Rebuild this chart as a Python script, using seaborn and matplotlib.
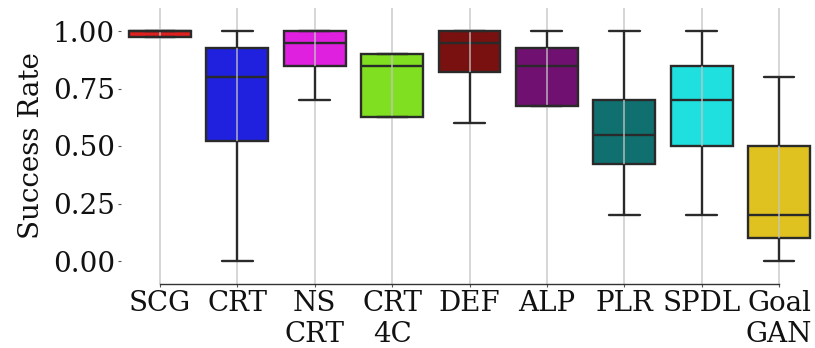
import numpy as np
import pandas as pd
import matplotlib
matplotlib.use("Agg")
import matplotlib.pyplot as plt
import seaborn as sns

# Methods and their success-rate summaries: [min, q1, median, q3, max]
methods = ["SCG", "CRT", "NS\nCRT", "CRT\n4C", "DEF", "ALP", "PLR", "SPDL", "Goal\nGAN"]
scg = [0.975, 0.975, 1.00, 1.00, 1.00]
crt = [0.00, 0.52, 0.80, 0.925, 1.00]
ns_crt = [0.70, 0.85, 0.95, 1.00, 1.00]
crt_4c = [0.625, 0.625, 0.85, 0.90, 0.90]
def_ = [0.60, 0.82, 0.95, 1.00, 1.00]
alp = [0.675, 0.675, 0.85, 0.925, 1.00]
plr = [0.20, 0.42, 0.55, 0.70, 1.00]
spdl = [0.20, 0.50, 0.70, 0.85, 1.00]
goal_gan = [0.00, 0.10, 0.20, 0.50, 0.80]
colors = ["red", "blue", "magenta", "chartreuse", "darkred", "purple", "teal", "cyan", "gold"]
yticks = [0.0, 0.25, 0.5, 0.75, 1.0]

series = [scg, crt, ns_crt, crt_4c, def_, alp, plr, spdl, goal_gan]
df = pd.DataFrame(
    [(m, v) for m, vals in zip(methods, series) for v in vals],
    columns=["method", "success"],
)

sns.set_style("ticks")
plt.rcParams["font.family"] = ["DejaVu Serif"]
plt.rcParams["font.size"] = 20
plt.rcParams["text.color"] = "#111111"
plt.rcParams["axes.labelcolor"] = "#111111"
plt.rcParams["xtick.labelcolor"] = "#111111"
plt.rcParams["ytick.labelcolor"] = "#111111"

fig = plt.figure(figsize=(8.15, 3.48), dpi=100)
ax = fig.add_axes([121.3 / 815, 1 - 284 / 348, 696.4 / 815, 276 / 348])

sns.boxplot(
    data=df, x="method", y="success", hue="method", order=methods,
    palette=colors, legend=False, whis=(0, 100), width=0.8,
    linecolor="#2a2a2a", linewidth=1.7, ax=ax,
    boxprops=dict(zorder=1),
    medianprops=dict(zorder=1.2),
    whiskerprops=dict(zorder=2),
    capprops=dict(zorder=2),
)

ax.set_axisbelow("line")
ax.grid(axis="x", color="#c4c4c4", alpha=0.75, linewidth=1.3, zorder=1.5)
ax.grid(axis="y", visible=False)

ax.set_ylim(-0.1, 1.1)
ax.set_xlim(-0.5, 8.5)
ax.set_yticks(yticks)
ax.set_yticklabels([f"{t:.2f}" for t in yticks])
ax.set_xlabel("")
ax.set_ylabel("Success Rate", fontsize=20, labelpad=6)
ax.tick_params(axis="both", labelsize=20, length=2.5, width=0.8, color="#555555", pad=2)

sns.despine(ax=ax, left=True, trim=True)
ax.spines["bottom"].set_color("#333333")
ax.spines["bottom"].set_linewidth(1.0)

fig.savefig("out.png", dpi=100)
